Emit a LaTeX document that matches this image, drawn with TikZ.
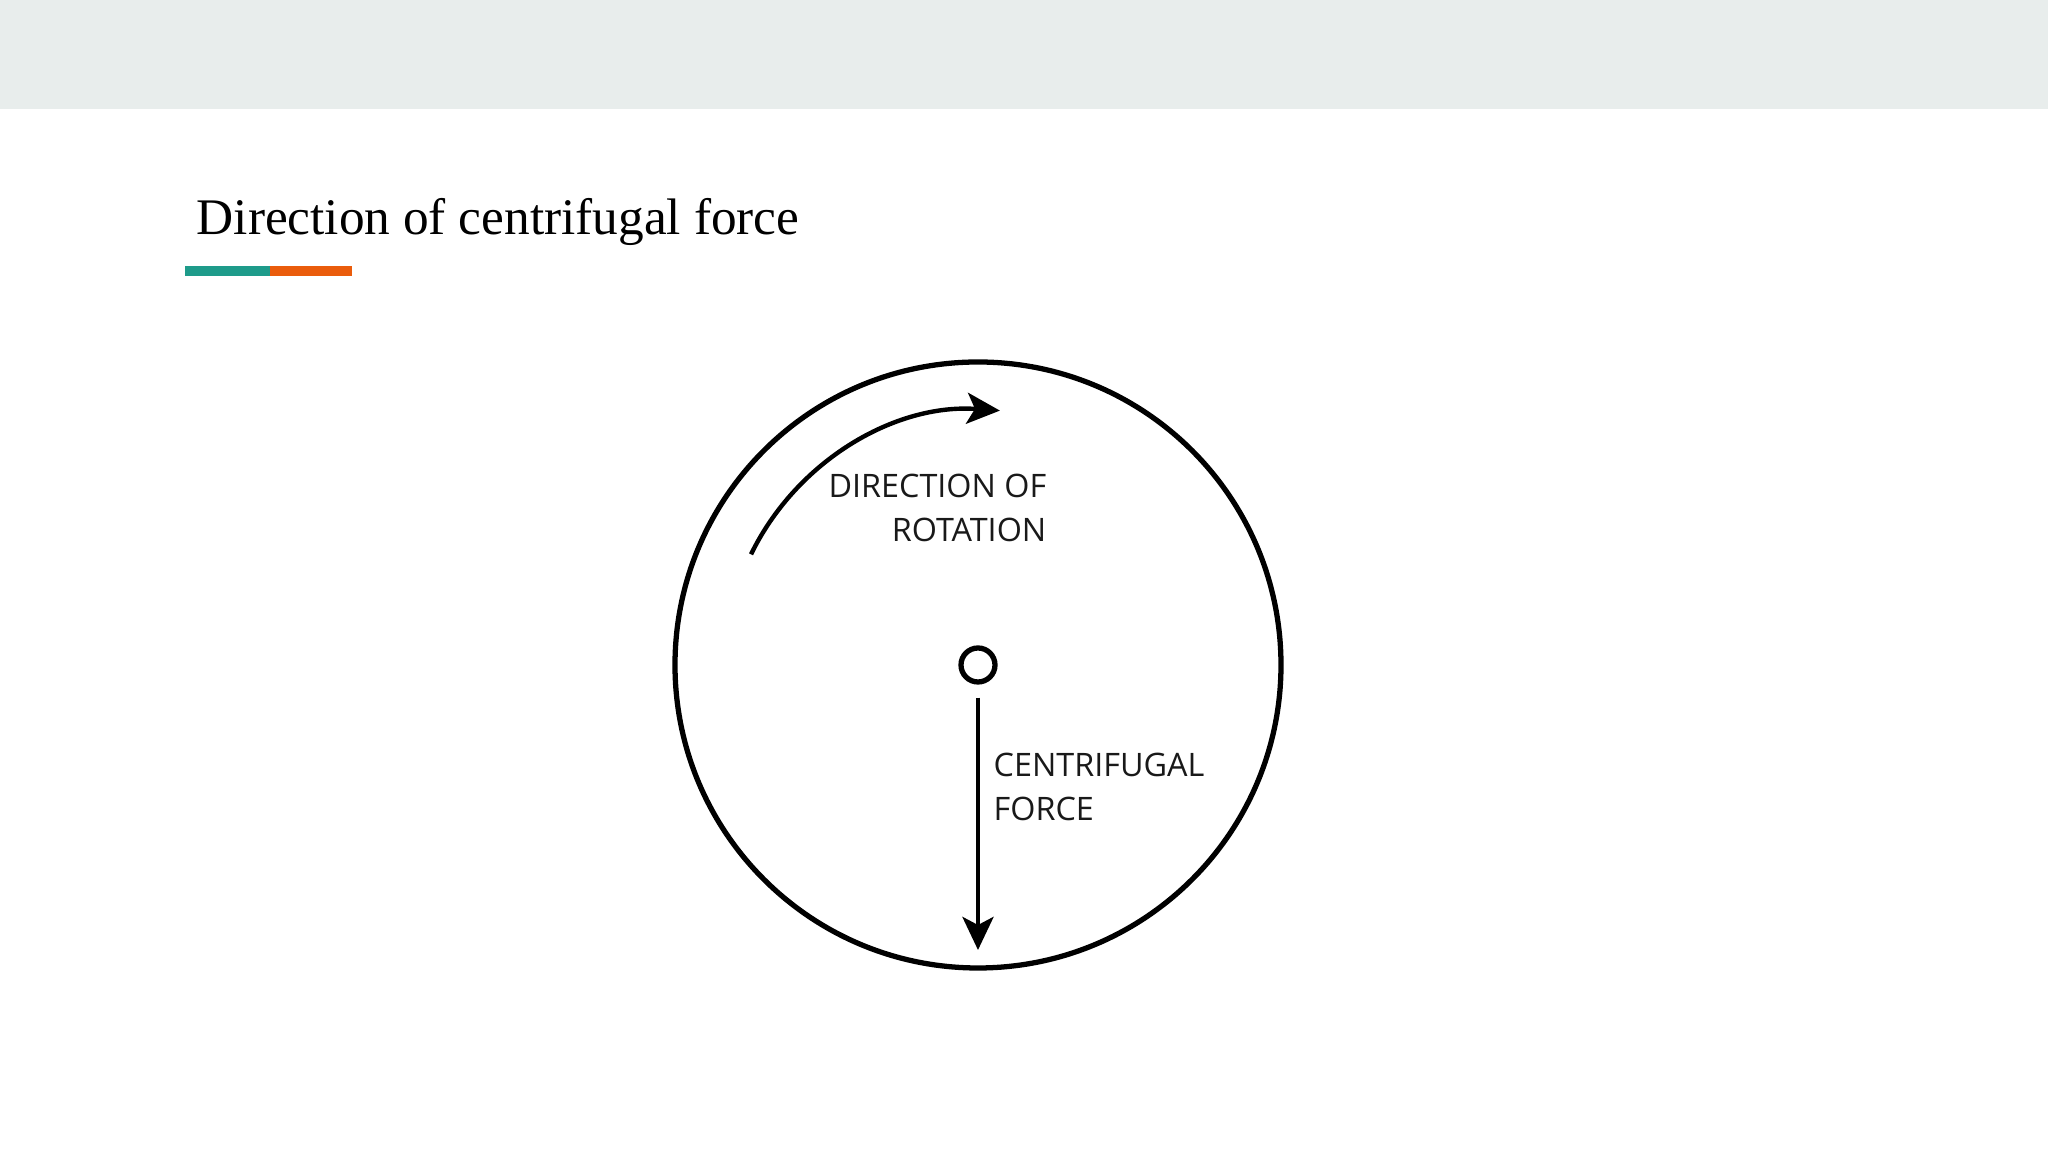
\documentclass[tikz,border=0pt]{standalone}
\usepackage{fontspec}
\setmainfont{Liberation Serif}
\newfontfamily\labelfont{Open Sans}
\usetikzlibrary{arrows.meta}
\definecolor{headgray}{RGB}{232,237,236}
\definecolor{barteal}{RGB}{30,155,138}
\definecolor{barorange}{RGB}{234,92,12}
\definecolor{inkgray}{RGB}{25,25,25}
\begin{document}
\begin{tikzpicture}[
	rim line/.style={line width=1.5pt, draw=black},
	force line/.style={line width=1.3pt, -{Stealth[length=3.3mm, width=3.1mm, inset=0.8mm]}},
	label text/.style={font=\labelfont\fontsize{9.2}{12.6}\selectfont, text=inkgray, inner sep=0pt}
	]
	\useasboundingbox (0, 0) rectangle (20.48, 11.52);
	\fill[headgray](0, 10.43) rectangle (20.48, 11.52);%Kopfzeile
	\node[anchor=base west, inner sep=0pt, font=\fontsize{14.6}{17}\selectfont] (title) at (1.96, 9.17) {Direction of centrifugal force};
	\fill[barteal](1.85, 8.76) rectangle (2.70, 8.86);%Balken links
	\fill[barorange](2.70, 8.76) rectangle (3.52, 8.86);%Balken rechts

	\node[circle, rim line, minimum size=6.06cm, inner sep=0pt] (wheel) at (9.78, 4.87) {};
	\node[circle, rim line, minimum size=0.34cm, inner sep=0pt] (hub) at (9.78, 4.87) {};
	\coordinate (rim) at (9.78, 2.02);
	\draw[force line, shorten <=0.13cm] (hub.south) -- (rim);%Kraft
	\draw[force line, line width=1.25pt] (hub.center) ++(0.04, -0.02) ++(154:2.57) arc[start angle=154, end angle=86, radius=2.57];%Drehrichtung

	\node[label text, anchor=north east, align=right] (turn) at (10.47, 6.79) {DIRECTION OF\\ROTATION};
	\node[label text, anchor=north west, align=left] (force) at (9.93, 4.00) {CENTRIFUGAL\\FORCE};
\end{tikzpicture}
\end{document}
